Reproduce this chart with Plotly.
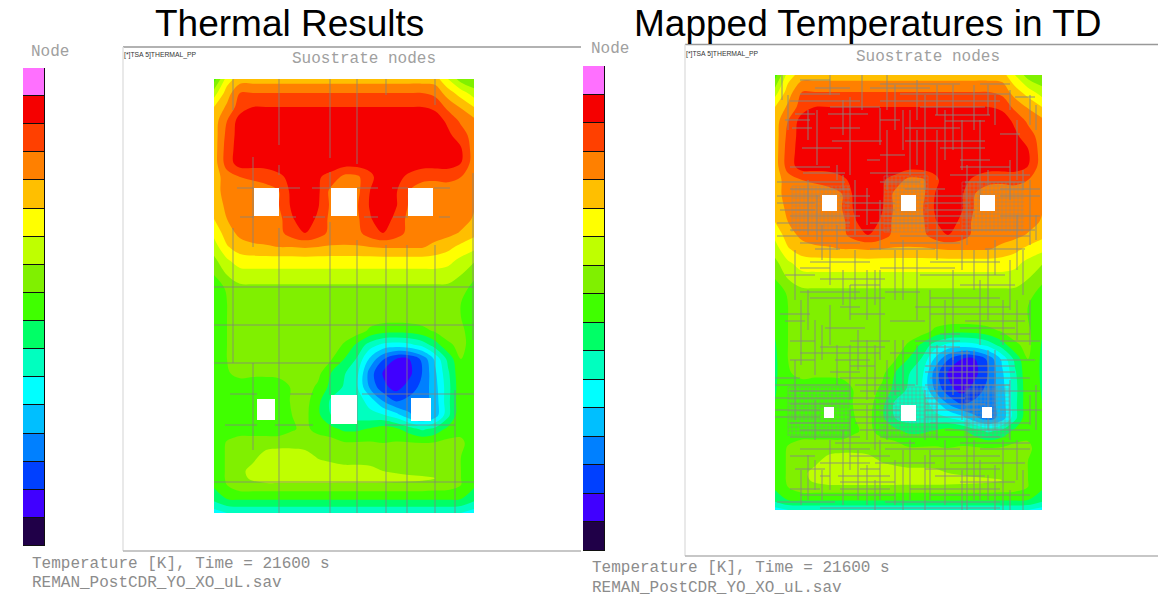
import plotly.graph_objects as go

W, H = 1158, 597

level_colors = ["#200048", "#4000ff", "#0040ff", "#0080ff", "#00bfff", "#00ffff", "#00ffbf", "#00ff66",
                "#40ff00", "#80f000", "#bfff00", "#ffff00", "#ffbf00", "#ff8000", "#ff4000", "#f50000", "#ff70ff"]

x1_nodes = [214,227,240,253,266,279,292,305,318,331,344,357,370,383,396,409,422,435,448,461,474]
y1_nodes = [79,93,107,121,135,149,163,177,191,205,219,233,247,261,275,289,303,317,331,345,359,373,387,401,415,429,443,457,471,478,485,499,513]
x2_nodes = [775,788,802,815,829,842,855,868,882,895,908,922,935,948,962,975,988,1002,1015,1028,1042]
y2_nodes = [75,92,107,121,136,151,166,180,194,208,222,235,249,263,279,293,306,319,331,345,359,373,389,404,418,431,448,461,473,480,487,500,510]

temps = [
 [8,11,12,12,12,12,12,12,12,12,12,12,12,12,12,12,12,12,10.5,9,8.5],
 [10,12,13.5,13.5,13.5,13.5,13.5,13.5,13.5,13.5,13.5,13.5,13.5,13.5,13.5,13.5,13.5,13.2,12,11,10],
 [11.5,12.7,14,14.5,14.5,14.5,14.5,14.5,14.5,14.5,14.5,14.5,14.5,14.5,14.5,14.5,14.5,14.3,13.2,12.4,11.5],
 [12,13.5,15,15,15,15,15,15,15,15,15,15,15,15,15,15,15,15,14.3,13.3,12.8],
 [12,13.8,15,15,15,15,15,15,15,15,15,15,15,15,15,15,15,15,14.7,14,13],
 [12,14,15,15,15,15,15,15,15,15,15,15,15,15,15,15,15,15,15,14.6,13],
 [12,14,15,15,15,15,15,15,15,15,15,15,15,15,15,15,15,15,15,14.5,13],
 [12,13,13.5,13.6,13.8,14.3,14.8,15.3,14.6,14.2,13.2,13.3,14.2,15.2,14.8,14.3,13.8,13.7,13.8,13.5,13],
 [12,13,13,13.2,13.2,13.5,14.8,15.5,14.7,13.2,13,13.2,14.5,15.5,14.6,13.5,13,13,13,13,12.7],
 [12,12.7,13,13,13,13.5,14.7,15.4,14.6,13.3,13,13.4,14.6,15.4,14.6,13.4,13,13,13,13,12.6],
 [11.5,12.5,13,13,13,13.2,14.4,15.1,14.3,13.2,13,13.3,14.4,15.1,14.2,13.2,13,13,13,12.9,12.4],
 [10.8,12,12.8,13,13,13.2,14,14.5,14,13.2,13,13.2,14,14.5,14,13.2,13,13,12.8,12.4,11.8],
 [10,11.4,12,12.3,12.4,12.5,12.5,12.6,12.5,12.4,12.4,12.4,12.5,12.6,12.6,12.6,12.6,12.2,11.8,11.2,10.8],
 [9.2,10.3,11,11,11,11,11,11,11,11,11,11,11,11,11,11,11,11,10.8,10.2,9.6],
 [8.5,9.5,10,10.1,10.1,10.1,10.1,10.1,10.1,10.1,10.1,10.1,10.1,10.1,10.1,10.1,10.1,10.1,10,9.5,8.7],
 [8,8.6,9.2,9.2,9.2,9.2,9.2,9.2,9.2,9.2,9.2,9.2,9.2,9.2,9.2,9.2,9.2,9.2,9.2,8.8,8.2],
 [8,8.5,9,9,9,9,9,9,9,9,9,9,9,9,9,9,9,9,9,8.5,8],
 [8,8.5,9,9,9,9,9,9,9,9,9,9,9,9,9,9,9,9,9,8.5,8],
 [8,8.5,9,9,9,9,9,9,9,9,9,9,8.3,7.9,7.8,7.9,8.2,8.6,9,8.7,8],
 [8,8.5,9,9,9,9,9,9,9,9,8.4,7.3,6,5.2,5,5.2,5.8,7,8.3,8.8,8],
 [8,8.5,9,9,9,9,9,9,9,8.6,7.5,6.4,4.3,2.6,1.5,1.5,2.7,4.7,6.8,8.5,8],
 [8,8.4,8.8,8.7,8.7,8.8,9,9,8.8,7.5,6.6,5.8,3,1.4,1,1.2,2.5,4.3,6.3,8.4,8],
 [8,8.2,8,8,8,8,8.6,9,8.3,7.2,6.4,5.6,3.3,1.8,1.1,1.9,2.8,4.1,6.1,8.3,8],
 [8,8,8,8,8,8,8.6,8.9,7.8,6.3,6,6,5.1,3.5,2.4,2.8,3,3.9,6.2,8.3,8],
 [8,8,8,8,8,8,8.5,8.8,7.7,6.5,6,6,5.8,5.6,4.9,3.7,3,3.9,6.2,8.4,8],
 [8,8,8,8,8,8,8.4,8.7,8.2,7.8,7.3,7.3,7.6,8,7.7,7,6.3,6.8,7.8,8.2,8],
 [7.8,8.6,9,9,9,9,9,9,9,9,8.6,8.6,8.6,8.5,8.6,8.6,8.5,8.6,8.8,8.7,8],
 [8,8.6,9,9.2,10,10.3,10.3,10,9.4,9.2,9,9,9,9,9,9,9,9,9,8.5,8],
 [8,8.6,9.2,9.9,10.2,10.3,10.3,10.3,10.2,10,9.9,9.9,9.8,9.5,9.3,9.1,9,9,9,8.5,8],
 [8,8.6,9.2,9.7,10.2,10.3,10.3,10.3,10.2,10.2,10.1,10.1,10.1,10,9.9,9.8,9.7,9.55,9.1,8.5,8],
 [7.7,8.5,9.2,9.2,9.2,9.2,9.2,9.2,9.2,9.2,9.2,9.2,9.2,9.2,9.2,9.2,9.2,9.1,9,8.5,7.7],
 [6.8,7.5,7.6,7.6,7.6,7.6,7.6,7.6,7.6,7.6,7.6,7.6,7.6,7.6,7.6,7.6,7.6,7.6,7.6,7.5,6.8],
 [5,5.5,5.6,5.6,5.6,5.6,5.6,5.6,5.6,5.6,5.6,5.6,5.6,5.6,5.6,5.6,5.6,5.6,5.6,5.5,5],
]

# edge columns of the mapped plot, from the row at y2=319 to the row at y2=431
edge2_left = [7.8,7.6,7.4,7.3,7.3,7.4,7.5,7.5,7.6]
edge2_right = [7.8,7.6,7.4,7.3,7.3,7.4,7.5,7.5,7.6]
temps2 = [list(r) for r in temps]
for i, (a, b) in enumerate(zip(edge2_left, edge2_right)):
    temps2[17 + i][0] = a
    temps2[17 + i][20] = b

holes1 = [(254,279,188,216),(331,357,188,216),(408,433,188,216),(257,275,399,420),(331,357,395,424),(411,431,398,421)]
holes2 = [(822,837,195,211),(901,916,195,211),(980,995,195,211),(824,834,407,418),(901,916,405,421),(982,992,407,418)]

mesh1_h = [(188,237,254),(188,279,300),(188,312,331),(188,357,378),(188,392,408),(188,434,450),
           (217,240,254),(217,283,296),(217,313,325),(217,364,378),(217,393,408),(217,439,450),
           (287,214,474),(325,214,474),(363,214,340),(394,230,257),(394,290,313),(394,362,455),(394,455,474),
           (425,225,257),(425,275,313),(425,385,455),(482,214,474)]
mesh1_v = [(233,79,110),(233,228,363),(253,157,247),(253,363,450),(279,79,145),(279,165,175),(279,228,363),(279,363,450),(279,450,513),
           (330,79,158),(330,172,188),(330,222,395),(330,424,513),(357,79,164),(357,240,513),(386,79,95),(386,245,513),
           (407,245,513),(435,79,105),(435,245,513),(455,390,513),(473,173,340)]

mesh2_h = [(80,800,830),(84,880,960),(84,980,1010),(88,815,850),(88,870,930),(94,800,840),(94,900,1010),(97,1015,1035),
 (101,790,860),(101,880,1000),(107,830,880),(107,920,985),(114,795,815),(114,828,868),(115,935,990),(120,785,810),(120,880,900),
 (121,945,985),(128,792,812),(128,830,860),(128,905,960),(134,1000,1020),(141,832,882),(141,905,985),(148,802,842),(148,940,985),
 (155,880,905),(160,867,880),(160,960,990),(167,790,830),(167,960,1010),(173,803,845),(173,870,925),(175,950,1030),
 (182,777,845),(182,880,920),(182,965,1025),(189,790,850),(189,905,945),(189,1000,1040),(196,777,820),(196,840,870),(196,925,975),(196,1000,1040),
 (203,777,815),(203,845,895),(203,925,970),(210,780,815),(210,845,895),(210,925,975),(216,790,860),(216,880,975),(216,1000,1040),
 (223,777,850),(223,870,960),(230,790,890),(230,925,1035),(236,777,880),(236,900,1030),(243,800,860),(243,890,960),(249,815,840),(249,870,935),(249,985,1025),
 (262,810,870),(262,930,1000),(268,800,830),(268,880,955),(275,785,815),(275,920,1005),(279,820,885),(285,850,880),(285,960,1015),
 (292,800,860),(292,885,920),(298,810,885),(298,930,1000),(307,840,860),(307,915,1010),(314,780,810),(314,850,885),(314,930,1030),
 (321,785,805),(321,890,925),(321,965,1025),(328,825,865),(328,960,1015),(334,940,960),(334,1000,1030),(341,790,815),(341,850,890),(341,915,960),(341,1000,1040),
 (347,820,885),(347,930,960),(353,800,880),(353,890,970),(360,790,815),(360,835,870),(360,1000,1035),(366,850,875),(366,925,1015),(372,830,860),(372,925,1015),
 (378,775,800),(378,840,890),(378,930,1030),(385,775,850),(385,855,915),(385,925,1010),(391,790,850),(391,860,900),(391,930,1040),
 (398,775,850),(398,850,890),(398,925,965),(404,790,850),(404,850,895),(404,925,985),(410,775,820),(410,850,900),(410,925,980),(410,1000,1042),
 (417,775,820),(417,850,900),(417,925,980),(423,790,850),(423,855,900),(423,930,1030),(430,800,850),(430,860,900),(430,945,1030),
 (437,790,860),(437,880,1000),(443,835,915),(443,960,1030),(449,800,870),(449,885,960),(449,980,1030),(456,790,815),(456,850,890),(456,930,1000),
 (463,820,870),(463,875,935),(463,950,1025),(469,795,825),(469,860,880),(469,925,1000),(476,820,830),(476,838,890),(476,935,985),(482,840,895),(482,960,1015),
 (489,790,820),(489,840,890),(489,910,1000),(495,800,895),(495,930,1030),(502,777,835),(502,885,1000),(508,820,1000)]

mesh2_v = [(782,75,100),(788,95,130),(795,250,300),(795,360,420),(801,300,365),(801,470,505),(808,110,140),(808,180,235),(808,290,330),(808,455,500),
 (817,110,165),(817,195,240),(815,320,375),(815,400,440),(815,460,490),(822,225,260),(822,325,360),(822,470,500),(830,75,95),(830,245,285),(830,305,345),(830,440,490),
 (837,165,180),(837,225,250),(837,345,385),(843,100,135),(843,175,190),(843,270,305),(843,430,505),(850,97,175),(850,285,320),(850,345,400),(850,410,470),
 (855,180,235),(855,250,300),(858,330,370),(858,450,500),(862,75,110),(867,188,225),(867,270,320),(867,340,400),(867,405,440),(867,465,505),
 (875,270,305),(875,345,395),(875,400,450),(875,480,510),(880,108,145),(880,200,250),(880,270,360),(880,440,500),(887,75,110),(887,130,190),(887,360,440),
 (895,85,130),(895,250,300),(895,340,395),(895,460,505),(903,110,150),(903,240,300),(903,340,390),(903,450,510),(910,110,175),(910,440,500),
 (917,80,120),(917,130,165),(917,250,320),(917,345,385),(925,95,190),(925,390,440),(925,455,510),(930,290,370),(930,450,500),
 (937,130,180),(937,85,115),(937,190,260),(937,345,440),(945,110,160),(945,300,340),(945,345,400),(945,440,505),(953,85,150),(953,270,360),(953,350,395),
 (962,120,170),(962,235,270),(962,350,420),(962,470,510),(967,165,245),(967,350,510),(974,85,130),(974,250,290),(974,350,420),(974,440,500),
 (980,120,200),(980,280,345),(980,460,500),(988,85,115),(988,170,185),(988,250,320),(988,350,430),(988,475,500),(995,95,125),(995,240,275),(995,350,430),(995,465,510),
 (1003,300,345),(1003,440,510),(1010,90,110),(1010,160,200),(1010,260,310),(1010,380,440),(1010,490,510),(1017,120,180),(1017,215,270),(1017,300,340),(1017,440,480),
 (1023,170,190),(1023,250,295),(1023,470,510),(1030,95,125),(1030,180,245),(1030,300,345),(1030,395,425),(1036,105,130),(1036,215,240),(1036,385,430)]

# finely meshed patches round the holes: x0, x1, y0, y1
fine2 = [(792,850,186,232),(884,928,176,232),(962,1024,182,232),(788,850,387,436),(880,938,387,437),(965,1010,385,437)]

level_x = ["Node"]
level_values = [1] * 17

fig = go.Figure()

def px_dom_x(a, b): return [a / W, b / W]
def px_dom_y(a, b): return [1 - b / H, 1 - a / H]

def seg_trace(h, v, xaxis, yaxis, color, width):
    xs, ys = [], []
    for y, a, b in h:
        xs += [a, b, None]; ys += [y, y, None]
    for x, a, b in v:
        xs += [x, x, None]; ys += [a, b, None]
    return go.Scatter(x=xs, y=ys, mode="lines", line=dict(color=color, width=width), xaxis=xaxis, yaxis=yaxis,
                      hoverinfo="skip", showlegend=False)

scale = []
n = len(level_colors)
for i, c in enumerate(level_colors):
    scale += [[i / n, c], [(i + 1) / n, c]]

def field(xn, yn, z, xa, ya):
    fig.add_trace(go.Contour(x=xn, y=yn, z=z, xaxis=xa, yaxis=ya, colorscale=scale, zmin=-0.5, zmax=16.5,
                             autocontour=False, contours=dict(start=0.5, end=15.5, size=1, coloring="fill", showlines=False),
                             line=dict(width=0), showscale=False, hoverinfo="skip"))

def hole_trace(holes, xa, ya):
    xs, ys = [], []
    for a, b, c, d in holes:
        xs += [a, b, b, a, a, None]; ys += [c, c, d, d, c, None]
    fig.add_trace(go.Scatter(x=xs, y=ys, mode="lines", fill="toself", fillcolor="white", line=dict(width=0, color="white"),
                             xaxis=xa, yaxis=ya, hoverinfo="skip", showlegend=False))

field(x1_nodes, y1_nodes, temps, "x", "y")
fig.add_trace(seg_trace(mesh1_h, mesh1_v, "x", "y", "rgba(130,130,125,0.8)", 1))
hole_trace(holes1, "x", "y")

fine_h, fine_v = [], []
for a, b, c, d in fine2:
    for y in range(c, d + 1, 4):
        fine_h.append((y, a, b))
    for x in range(a, b + 1, 4):
        fine_v.append((x, c, d))
field(x2_nodes, y2_nodes, temps2, "x2", "y2")
fig.add_trace(seg_trace(fine_h, fine_v, "x2", "y2", "rgba(140,140,138,0.4)", 1))
fig.add_trace(seg_trace(mesh2_h, mesh2_v, "x2", "y2", "rgba(135,135,130,0.9)", 1))
hole_trace(holes2, "x2", "y2")

for xa, ya in (("x3", "y3"), ("x4", "y4")):
    for i, c in enumerate(level_colors):
        fig.add_trace(go.Bar(x=level_x, y=[level_values[i]], marker=dict(color=c, line=dict(color="#101010", width=1)),
                             xaxis=xa, yaxis=ya, width=1, hoverinfo="skip", showlegend=False))

hidden = dict(visible=False, fixedrange=True)
fig.update_layout(
    width=W, height=H, margin=dict(l=0, r=0, t=0, b=0), paper_bgcolor="white", plot_bgcolor="rgba(0,0,0,0)",
    barmode="stack", bargap=0,
    xaxis=dict(domain=px_dom_x(214, 474), range=[214, 474], **hidden),
    yaxis=dict(domain=px_dom_y(79, 513), range=[513, 79], **hidden),
    xaxis2=dict(domain=px_dom_x(775, 1042), range=[775, 1042], **hidden),
    yaxis2=dict(domain=px_dom_y(75, 510), range=[510, 75], **hidden),
    xaxis3=dict(domain=px_dom_x(23, 45), **hidden),
    yaxis3=dict(domain=px_dom_y(68, 546), range=[0, 17], **hidden),
    xaxis4=dict(domain=px_dom_x(583, 605), **hidden),
    yaxis4=dict(domain=px_dom_y(66, 551), range=[0, 17], **hidden),
)

def frame(x0, x1, top, bot):
    for a, b, c, d, col, w in [(x0, x1, top, top, "#999999", 1.5), (x0, x0, top, bot, "#e2e2e2", 1.5), (x0, x1, bot, bot, "#b4b4b4", 1.5)]:
        fig.add_shape(type="line", xref="paper", yref="paper", x0=a / W, x1=b / W, y0=1 - c / H, y1=1 - d / H,
                      line=dict(color=col, width=w), layer="below")

frame(123, 581, 47, 551)
frame(685, 1158, 44.5, 556)

def label(text, x, y, size, color, family, anchor="left"):
    fig.add_annotation(text=text, x=x / W, y=1 - y / H, xref="paper", yref="paper", showarrow=False, xanchor=anchor, yanchor="middle",
                       font=dict(size=size, color=color, family=family))

MONO = "Liberation Mono"
label("Thermal Results", 289, 24, 37, "black", "Liberation Sans", "center")
label("Mapped Temperatures in TD", 868, 24, 37, "black", "Liberation Sans", "center")
for x, y, t in [(29, 52, "Node"), (589, 49, "Node"), (290, 59, "Suostrate nodes"), (854, 57, "Suostrate nodes")]:
    label(t, x, y, 16, "#a0a0a0", MONO)
for x, y, t in [(122, 55, "[*]TSA 5]THERMAL_PP"), (684, 54, "[*]TSA 5]THERMAL_PP")]:
    label(t, x, y, 6.8, "#333333", "Liberation Sans")
for x, y, t in [(30, 564, "Temperature [K], Time = 21600 s"), (590, 568, "Temperature [K], Time = 21600 s"),
                (30, 583, "REMAN_PostCDR_YO_XO_uL.sav"), (590, 588, "REMAN_PostCDR_YO_XO_uL.sav")]:
    label(t, x, y, 16, "#8c8c8c", MONO)

fig.write_html("out.html", config=dict(displayModeBar=False), post_script="document.body.style.margin='0';")
